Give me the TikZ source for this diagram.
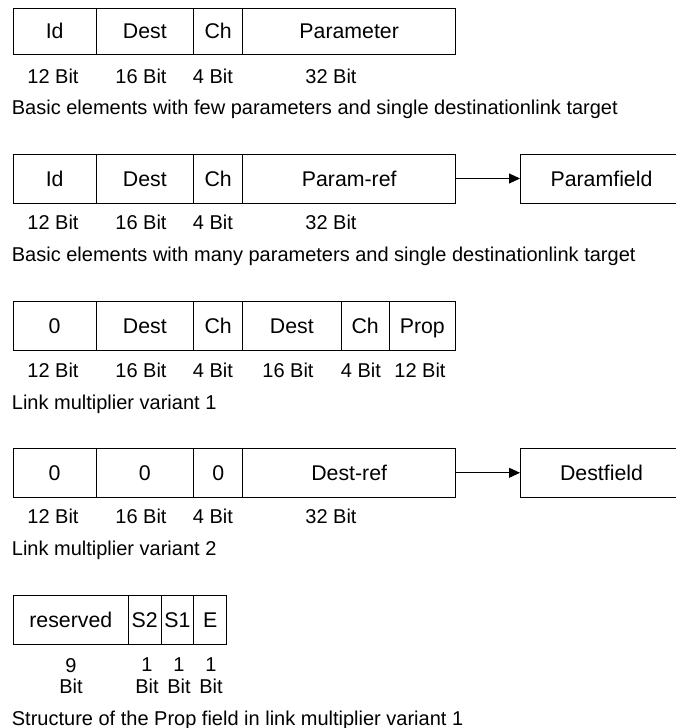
\documentclass[tikz,border=0pt]{standalone}
\usepackage{fontspec}
\setmainfont{Liberation Sans}
\usetikzlibrary{positioning,arrows.meta}

\tikzset{
  field/.style={draw, line width=0.9pt, outer sep=0pt, inner sep=0pt,
    minimum height=49pt, text height=15.3pt, text depth=0pt,
    font=\fontsize{21.3}{24}\selectfont},
  lbl/.style={inner sep=0pt},
  ref/.style={line width=0.9pt, -{Triangle[length=11pt,width=10pt]}}
}

\begin{document}
\begin{tikzpicture}[x=1pt,y=-1pt,font=\fontsize{20}{21.7}\selectfont]
\useasboundingbox (0,0) rectangle (675,728);

% few parameters
\node[field,minimum height=46pt,minimum width=82.7pt,anchor=north west] (id1) at (13.3,8) {Id};
\node[field,minimum height=46pt,minimum width=97.7pt,right=0pt of id1] (dest1) {Dest};
\node[field,minimum height=46pt,minimum width=49pt,right=0pt of dest1] (ch1) {Ch};
\node[field,minimum height=46pt,minimum width=213pt,right=0pt of ch1] (par1) {Parameter};
\node[lbl] (w1a) at (53,76) {12 Bit};
\node[lbl] (w1b) at (141,76) {16 Bit};
\node[lbl] (w1c) at (213,76) {4 Bit};
\node[lbl] (w1d) at (331,76) {32 Bit};
\node[lbl,anchor=base west] (cap1) at (11.7,114.5) {Basic elements with few parameters and single destinationlink target};

% many parameters
\node[field,minimum width=82.7pt,anchor=north west] (id2) at (13.3,154) {Id};
\node[field,minimum width=97.7pt,right=0pt of id2] (dest2) {Dest};
\node[field,minimum width=49pt,right=0pt of dest2] (ch2) {Ch};
\node[field,minimum width=213pt,right=0pt of ch2] (pref2) {Param-ref};
\node[field,minimum width=163pt,anchor=north west] (pfield) at (520,154) {Paramfield};
\draw[ref] (pref2.east) -- (pfield.west);
\node[lbl] (w2a) at (53,222.7) {12 Bit};
\node[lbl] (w2b) at (141,222.7) {16 Bit};
\node[lbl] (w2c) at (213,222.7) {4 Bit};
\node[lbl] (w2d) at (331,222.7) {32 Bit};
\node[lbl,anchor=base west] (cap2) at (11.7,261.7) {Basic elements with many parameters and single destinationlink target};

% link multiplier 1
\node[field,minimum width=82.7pt,anchor=north west] (zero3) at (13.3,301) {0};
\node[field,minimum width=97.7pt,right=0pt of zero3] (desta3) {Dest};
\node[field,minimum width=49pt,right=0pt of desta3] (cha3) {Ch};
\node[field,minimum width=98.3pt,right=0pt of cha3] (destb3) {Dest};
\node[field,minimum width=48.3pt,right=0pt of destb3] (chb3) {Ch};
\node[field,minimum width=66pt,right=0pt of chb3] (prop3) {Prop};
\node[lbl] (w3a) at (53,370) {12 Bit};
\node[lbl] (w3b) at (141,370) {16 Bit};
\node[lbl] (w3c) at (213,370) {4 Bit};
\node[lbl] (w3d) at (288,370) {16 Bit};
\node[lbl] (w3e) at (361,370) {4 Bit};
\node[lbl] (w3f) at (420,370) {12 Bit};
\node[lbl,anchor=base west] (cap3) at (11.7,409) {Link multiplier variant 1};

% link multiplier 2
\node[field,minimum width=82.7pt,anchor=north west] (zero4) at (13.3,448.3) {0};
\node[field,minimum width=97.7pt,right=0pt of zero4] (zerob4) {0};
\node[field,minimum width=49pt,right=0pt of zerob4] (zeroc4) {0};
\node[field,minimum width=213pt,right=0pt of zeroc4] (dref4) {Dest-ref};
\node[field,minimum width=163pt,anchor=north west] (dfield) at (520,448.3) {Destfield};
\draw[ref] (dref4.east) -- (dfield.west);
\node[lbl] (w4a) at (53,516.7) {12 Bit};
\node[lbl] (w4b) at (141,516.7) {16 Bit};
\node[lbl] (w4c) at (213,516.7) {4 Bit};
\node[lbl] (w4d) at (331,516.7) {32 Bit};
\node[lbl,anchor=base west] (cap4) at (11.7,555.5) {Link multiplier variant 2};

% prop field
\node[field,minimum width=115pt,anchor=north west] (res5) at (13.3,595) {reserved};
\node[field,minimum width=32.7pt,right=0pt of res5] (s25) {S2};
\node[field,minimum width=32.7pt,right=0pt of s25] (s15) {S1};
\node[field,minimum width=33pt,right=0pt of s15] (e5) {E};
\node[lbl,align=center] (w5a) at (71,676) {9\\Bit};
\node[lbl,align=center] (w5b) at (147,676) {1\\Bit};
\node[lbl,align=center] (w5c) at (179,676) {1\\Bit};
\node[lbl,align=center] (w5d) at (211,676) {1\\Bit};
\node[lbl,anchor=base west] (cap5) at (11.7,725) {Structure of the Prop field in link multiplier variant 1};
\end{tikzpicture}
\end{document}
